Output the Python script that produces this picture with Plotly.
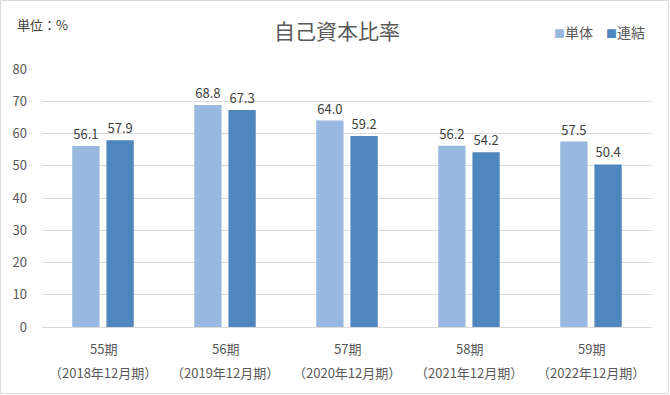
import plotly.graph_objects as go

categories = ["55期", "56期", "57期", "58期", "59期"]
periods = ["（2018年12月期）", "（2019年12月期）", "（2020年12月期）", "（2021年12月期）", "（2022年12月期）"]
tandoku = [56.1, 68.8, 64.0, 56.2, 57.5]
renketsu = [57.9, 67.3, 59.2, 54.2, 50.4]
series_names = ["単体", "連結"]
colors = ["#98B8DF", "#4F86BD"]
yticks = [0, 10, 20, 30, 40, 50, 60, 70, 80]

FONT = "Noto Sans CJK JP"
W, H = 670, 395
ML, MR, MT, MB = 42, 18, 69, 68
pw, ph = W - ML - MR, H - MT - MB

fig = go.Figure()
for name, vals, col in zip(series_names, [tandoku, renketsu], colors):
    fig.add_trace(go.Bar(
        x=categories, y=vals, name=name, marker=dict(color=col, line=dict(width=0)),
        text=[f"{v:.1f}" for v in vals], textposition="outside", cliponaxis=False,
        textfont=dict(size=13, color="#404040", family=FONT),
    ))

annotations = []
for c, p in zip(categories, periods):
    annotations.append(dict(x=c, xref="x", y=-21 / ph, yref="paper", text=c, showarrow=False,
                            font=dict(size=13, color="#595959", family=FONT), yanchor="middle"))
    annotations.append(dict(x=c, xref="x", y=-45 / ph, yref="paper", text=p, showarrow=False,
                            font=dict(size=13, color="#595959", family=FONT), yanchor="middle"))
annotations.append(dict(x=-27 / pw, xref="paper", y=(MT - 25) / ph + 1, yref="paper", text="単位：%",
                        showarrow=False, xanchor="left", yanchor="middle",
                        font=dict(size=13, color="#404040", family=FONT)))
# legend drawn as text
leg_x = [552, 604]
for name, col, lx in zip(series_names, colors, leg_x):
    annotations.append(dict(x=(lx - ML) / pw, xref="paper", y=(MT - 32) / ph + 1, yref="paper",
                            text=f"<span style='color:{col};font-size:11px'>■</span>{name}",
                            showarrow=False, xanchor="left", yanchor="middle",
                            font=dict(size=14, color="#595959", family=FONT)))

fig.update_layout(
    width=W, height=H,
    margin=dict(l=ML, r=MR, t=MT, b=MB),
    paper_bgcolor="white", plot_bgcolor="white",
    title=dict(text="自己資本比率", x=337 / W, xanchor="center", y=1 - 32 / H, yanchor="middle",
               font=dict(size=21, color="#595959", family=FONT)),
    barmode="group", bargap=0.44, bargroupgap=0.2,
    showlegend=False,
    xaxis=dict(showticklabels=False, showline=True, linecolor="#d9d9d9", linewidth=1,
               ticks="", showgrid=False),
    yaxis=dict(range=[0, 80], tickvals=yticks, showgrid=True, gridcolor="#d9d9d9", gridwidth=1,
               zeroline=False, showline=False, ticks="", ticklabelstandoff=14,
               tickfont=dict(size=13, color="#595959", family=FONT)),
    annotations=annotations,
    shapes=[dict(type="rect", xref="paper", yref="paper",
                 x0=-(ML - 0.5) / pw, x1=1 + (MR - 1.5) / pw,
                 y0=-(MB - 1.5) / ph, y1=1 + (MT - 0.5) / ph,
                 line=dict(color="#d9d9d9", width=1), fillcolor="rgba(0,0,0,0)", layer="below")],
)

fig.write_html("out.html", config={"displayModeBar": False},
               post_script="document.body.style.margin='0';document.body.style.overflow='hidden';")
